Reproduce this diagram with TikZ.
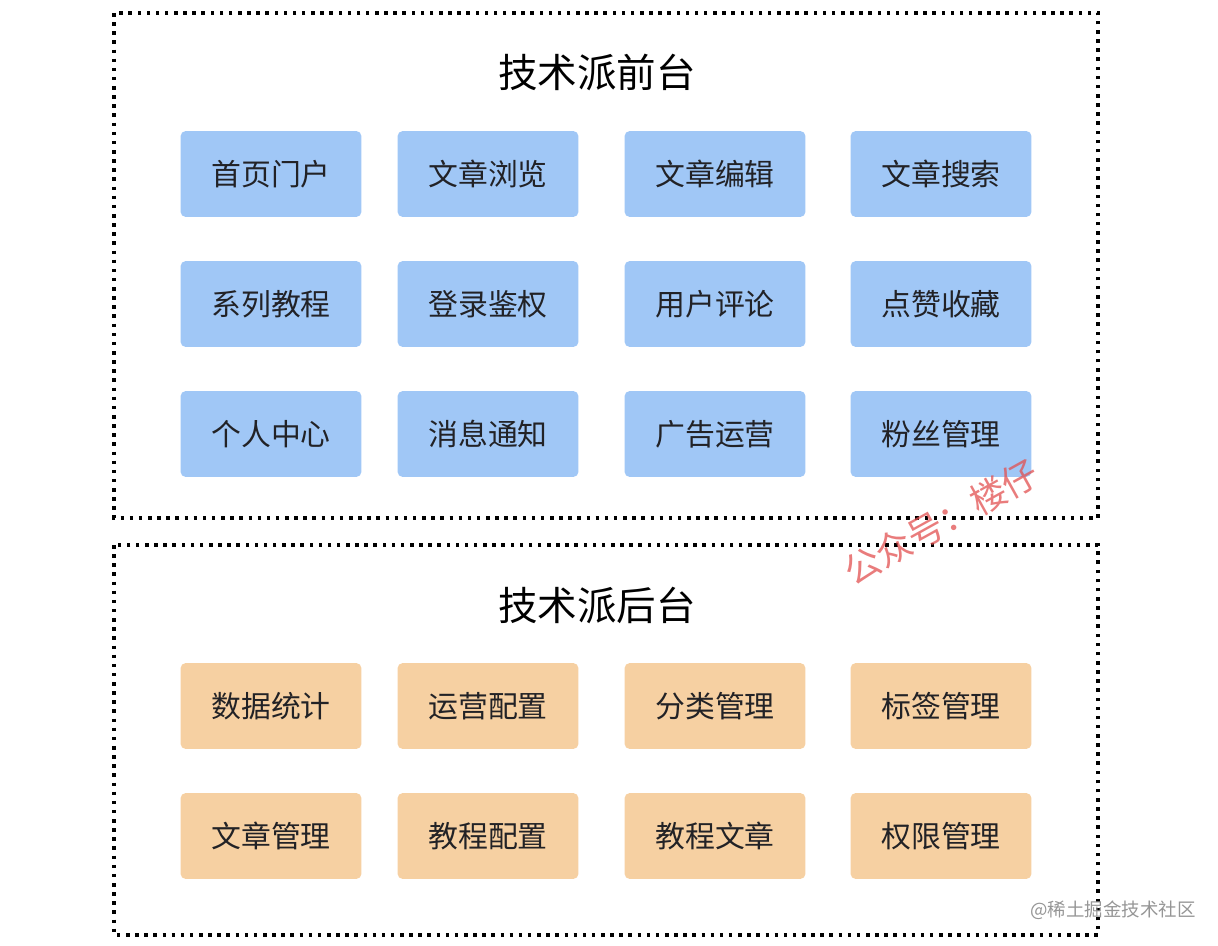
\documentclass[tikz,border=0pt]{standalone}
\usepackage{fontspec}
\setmainfont{Noto Sans CJK SC}
\definecolor{front}{RGB}{160,199,246}
\definecolor{back}{RGB}{246,208,162}
\definecolor{ink}{RGB}{34,34,38}
\definecolor{mark}{RGB}{226,80,80}
\definecolor{soft}{RGB}{150,150,150}
\usetikzlibrary{positioning}
\tikzset{
  frame/.style={draw=black, line width=2pt, dash pattern=on 2pt off 3.2pt},
  fbox/.style={fill=front, rounded corners=3pt, minimum width=3.62cm, minimum height=1.72cm,
               inner sep=0pt, font=\fontsize{17}{18}\selectfont, text=ink},
  bbox/.style={fbox, fill=back},
  title/.style={font=\fontsize{22.5}{24}\selectfont, text=black},
}
\begin{document}
\begin{tikzpicture}[x=0.02cm,y=-0.02cm]
    \useasboundingbox (0,0) rectangle (1218,946);
    % --- front end ---
    \draw[frame] (114,13) rectangle (1098,518);
    \node[title] (ftitle) at (597,72) {技术派前台};
    \node[fbox] (home)    at (271,174) {首页门户};
    \node[fbox] (browse)  at (488,174) {文章浏览};
    \node[fbox] (edit)    at (715,174) {文章编辑};
    \node[fbox] (search)  at (941,174) {文章搜索};
    \node[fbox] (series)  at (271,304) {系列教程};
    \node[fbox] (login)   at (488,304) {登录鉴权};
    \node[fbox] (comment) at (715,304) {用户评论};
    \node[fbox] (like)    at (941,304) {点赞收藏};
    \node[fbox] (me)      at (271,434) {个人中心};
    \node[fbox] (notice)  at (488,434) {消息通知};
    \node[fbox] (ads)     at (715,434) {广告运营};
    \node[fbox] (fans)    at (941,434) {粉丝管理};
    % --- back end ---
    \draw[frame] (114,545) rectangle (1098,935);
    \node[title] (btitle) at (597,605) {技术派后台};
    \node[bbox] (stats)   at (271,706) {数据统计};
    \node[bbox] (opcfg)   at (488,706) {运营配置};
    \node[bbox] (cats)    at (715,706) {分类管理};
    \node[bbox] (tags)    at (941,706) {标签管理};
    \node[bbox] (posts)   at (271,836) {文章管理};
    \node[bbox] (tutcfg)  at (488,836) {教程配置};
    \node[bbox] (tutpost) at (715,836) {教程文章};
    \node[bbox] (perm)    at (941,836) {权限管理};
    % --- watermarks ---
    \node[font=\fontsize{20.5}{22}\selectfont, text=mark, opacity=0.75, rotate=29] (wm) at (941,522) {公众号：楼仔};
    \node[font=\fontsize{10.5}{12}\selectfont, text=soft] (site) at (1113,910) {@稀土掘金技术社区};
\end{tikzpicture}
\end{document}
